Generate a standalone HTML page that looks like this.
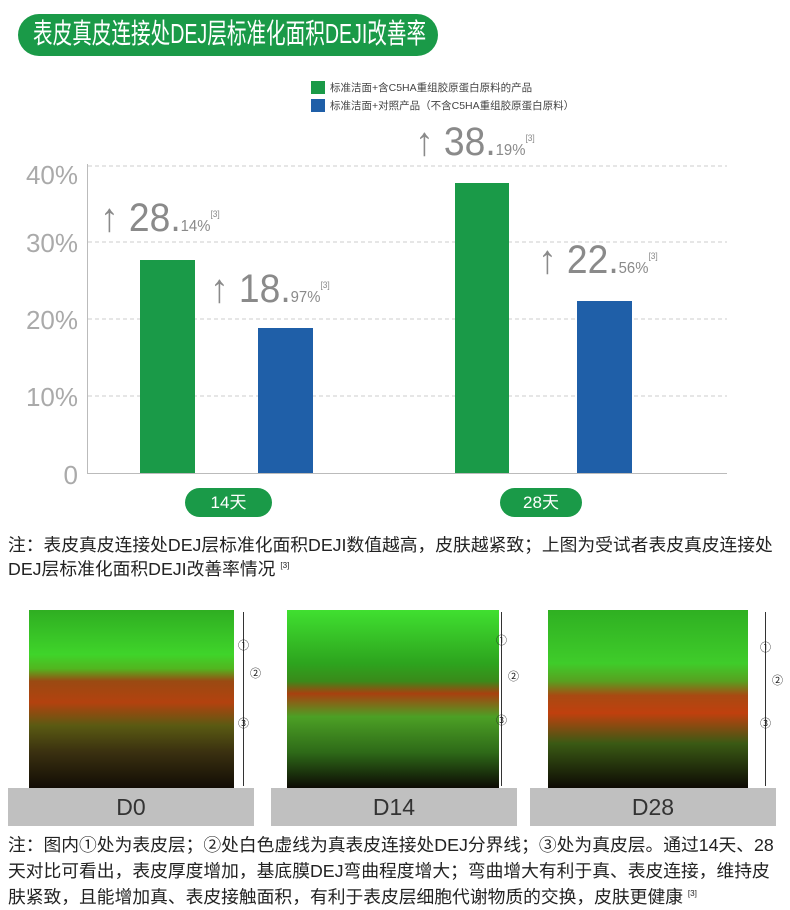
<!DOCTYPE html>
<html><head><meta charset="utf-8"><style>
body{margin:0;width:790px;height:908px;background:#fff;position:relative;overflow:hidden;font-family:"Liberation Sans","Noto Sans CJK SC",sans-serif}
.a{position:absolute}
.pill{background:#1a9a48;color:#fff}
.lbl{color:#aaa;font-size:26px;width:70px;text-align:right;left:8px}
.num{color:#8a8a8a;font-size:40px;white-space:nowrap;transform:scaleX(0.93);transform-origin:left}
.num small{font-size:16px}
.num sup{font-size:9px;vertical-align:14px;line-height:0}
.img{height:178px;top:610px;background:linear-gradient(180deg,#2fae22 0%,#3fd42a 25%,#52b51f 33%,#9a4a12 40%,#b3420f 52%,#5a5a12 65%,#3a3010 80%,#120d05 100%)}
.gray{background:#c0c0c0;top:788px;height:38px;font-size:23px;color:#333;text-align:center;line-height:38px;width:246px}
.note{font-size:17.5px;color:#222;left:8px;white-space:nowrap;transform:scaleX(1.015);transform-origin:left}
.note sup{font-size:8px;line-height:0}
.c{font-size:11px;color:#222}
</style></head><body>
<div class="a pill" style="left:18px;top:14px;width:420px;height:42px;border-radius:21px"></div>
<div class="a" style="left:33px;top:13px;height:42px;font-size:28px;line-height:42px;color:#fff;white-space:nowrap;transform:scaleX(0.70);transform-origin:left">表皮真皮连接处DEJ层标准化面积DEJI改善率</div>
<div class="a" style="left:311px;top:81px;width:14px;height:13px;background:#1a9a48"></div>
<div class="a" style="left:311px;top:99px;width:14px;height:13px;background:#1f5fa8"></div>
<div class="a" style="left:330px;top:80px;font-size:10.5px;color:#444">标准洁面+含C5HA重组胶原蛋白原料的产品</div>
<div class="a" style="left:330px;top:98px;font-size:10.5px;color:#444">标准洁面+对照产品（不含C5HA重组胶原蛋白原料）</div>
<svg class="a" style="left:0;top:0" width="790" height="480">
<g stroke="#ccc" stroke-dasharray="4,3"><line x1="88" y1="166" x2="727" y2="166"/><line x1="88" y1="242" x2="727" y2="242"/><line x1="88" y1="319" x2="727" y2="319"/><line x1="88" y1="396" x2="727" y2="396"/></g>
<line x1="87.5" y1="164" x2="87.5" y2="473" stroke="#bbb"/>
<line x1="87" y1="473.5" x2="727" y2="473.5" stroke="#bbb"/>
<rect x="140" y="260" width="55" height="213" fill="#1a9a48"/>
<rect x="258" y="328" width="55" height="145" fill="#1f5fa8"/>
<rect x="455" y="183" width="54" height="290" fill="#1a9a48"/>
<rect x="577" y="301" width="55" height="172" fill="#1f5fa8"/>
</svg>
<div class="a lbl" style="top:160px">40%</div>
<div class="a lbl" style="top:228px">30%</div>
<div class="a lbl" style="top:305px">20%</div>
<div class="a lbl" style="top:382px">10%</div>
<div class="a lbl" style="top:460px">0</div>
<div class="a num" style="left:100px;top:196px">↑ 28.<small>14%</small><sup>[3]</sup></div>
<div class="a num" style="left:210px;top:267px">↑ 18.<small>97%</small><sup>[3]</sup></div>
<div class="a num" style="left:415px;top:120px">↑ 38.<small>19%</small><sup>[3]</sup></div>
<div class="a num" style="left:538px;top:238px">↑ 22.<small>56%</small><sup>[3]</sup></div>
<div class="a pill" style="left:185px;top:488px;width:87px;height:29px;border-radius:15px;font-size:17px;line-height:29px;text-align:center">14天</div>
<div class="a pill" style="left:500px;top:488px;width:82px;height:29px;border-radius:15px;font-size:17px;line-height:29px;text-align:center">28天</div>
<div class="a note" style="top:533px;line-height:24px">注：表皮真皮连接处DEJ层标准化面积DEJI数值越高，皮肤越紧致；上图为受试者表皮真皮连接处<br>DEJ层标准化面积DEJI改善率情况 <sup>[3]</sup></div>
<div class="a img" style="left:29px;width:205px"></div>
<div class="a img" style="left:287px;width:212px;background:linear-gradient(180deg,#40e030 0%,#2da41e 30%,#3a8a1a 40%,#a8400f 47%,#4ca025 60%,#2e6a18 80%,#0d0a04 100%)"></div>
<div class="a img" style="left:548px;width:200px;background:linear-gradient(180deg,#2fb022 0%,#3fcc2a 30%,#58a020 40%,#a84a12 48%,#c0400e 58%,#3a5a14 75%,#0e0a04 100%)"></div>
<div class="a gray" style="left:8px">D0</div>
<div class="a gray" style="left:271px">D14</div>
<div class="a gray" style="left:530px">D28</div>
<div class="a" style="left:243px;top:612px;width:1px;height:174px;background:#333"></div>
<div class="a" style="left:501px;top:612px;width:1px;height:174px;background:#333"></div>
<div class="a" style="left:765px;top:612px;width:1px;height:174px;background:#333"></div>
<div class="a c" style="left:238px;top:637px">①</div><div class="a c" style="left:250px;top:665px">②</div><div class="a c" style="left:238px;top:715px">③</div>
<div class="a c" style="left:496px;top:632px">①</div><div class="a c" style="left:508px;top:668px">②</div><div class="a c" style="left:496px;top:712px">③</div>
<div class="a c" style="left:760px;top:639px">①</div><div class="a c" style="left:772px;top:672px">②</div><div class="a c" style="left:760px;top:715px">③</div>
<div class="a note" style="top:832px;line-height:26px">注：图内①处为表皮层；②处白色虚线为真表皮连接处DEJ分界线；③处为真皮层。通过14天、28<br>天对比可看出，表皮厚度增加，基底膜DEJ弯曲程度增大；弯曲增大有利于真、表皮连接，维持皮<br>肤紧致，且能增加真、表皮接触面积，有利于表皮层细胞代谢物质的交换，皮肤更健康 <sup>[3]</sup></div>
</body></html>
